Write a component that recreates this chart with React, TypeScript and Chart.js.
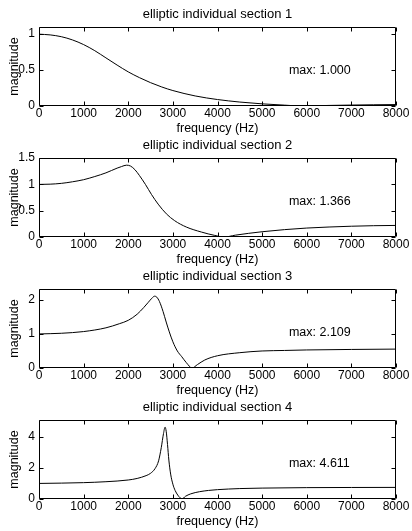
import React, { useEffect, useRef } from "react";
import { Chart, registerables } from "chart.js";

Chart.register(...registerables);

// ---------- data ----------
const xTickValues = [0, 1000, 2000, 3000, 4000, 5000, 6000, 7000, 8000];
const xMin = 0;
const xMax = 8000;

const titles = [
  "elliptic individual section 1",
  "elliptic individual section 2",
  "elliptic individual section 3",
  "elliptic individual section 4",
];

const maxValues = [1.0, 1.366, 2.109, 4.611];
const maxLabels = ["max: 1.000", "max: 1.366", "max: 2.109", "max: 4.611"];
const yTickSteps = [0.5, 0.5, 1, 2];

const freq1 = [0, 250, 500, 750, 1000, 1250, 1500, 1750, 2000, 2250, 2500, 2750, 3000, 3500, 4000, 4500, 5000, 5500, 5900, 6500, 7000, 7500, 8000];
const mag1 = [1.0, 0.99, 0.965, 0.92, 0.855, 0.77, 0.67, 0.57, 0.475, 0.395, 0.325, 0.265, 0.215, 0.14, 0.09, 0.055, 0.03, 0.012, 0.0, 0.008, 0.013, 0.017, 0.02];

const freq2 = [0, 250, 500, 750, 1000, 1250, 1500, 1750, 1850, 1960, 2050, 2150, 2250, 2385, 2520, 2670, 2855, 3040, 3300, 3640, 3940, 4150, 4400, 4700, 5000, 5500, 6000, 6500, 7000, 7500, 8000];
const mag2 = [1.0, 1.005, 1.02, 1.05, 1.09, 1.15, 1.22, 1.31, 1.34, 1.366, 1.35, 1.28, 1.17, 1.0, 0.81, 0.625, 0.44, 0.31, 0.19, 0.094, 0.03, 0.0, 0.035, 0.07, 0.1, 0.14, 0.17, 0.19, 0.205, 0.215, 0.22];

const freq3 = [0, 500, 1000, 1500, 1800, 2000, 2200, 2350, 2450, 2530, 2590, 2640, 2700, 2780, 2850, 2920, 3000, 3100, 3200, 3300, 3430, 3550, 3715, 4000, 4500, 5000, 5500, 6000, 7000, 8000];
const mag3 = [1.0, 1.02, 1.07, 1.18, 1.3, 1.4, 1.58, 1.78, 1.93, 2.05, 2.109, 2.08, 1.95, 1.66, 1.35, 1.06, 0.77, 0.5, 0.33, 0.16, 0.0, 0.1, 0.235, 0.36, 0.45, 0.5, 0.515, 0.53, 0.545, 0.555];

const freq4 = [0, 500, 1000, 1500, 2000, 2200, 2400, 2500, 2600, 2680, 2740, 2790, 2825, 2850, 2880, 2910, 2950, 3000, 3050, 3110, 3160, 3205, 3280, 3400, 3600, 3800, 4000, 4500, 5000, 6000, 7000, 8000];
const mag4 = [1.0, 1.02, 1.05, 1.11, 1.22, 1.32, 1.5, 1.65, 1.95, 2.45, 3.3, 4.2, 4.611, 4.35, 3.5, 2.5, 1.6, 0.95, 0.55, 0.25, 0.08, 0.0, 0.17, 0.33, 0.47, 0.55, 0.6, 0.67, 0.7, 0.73, 0.74, 0.745];

const freqs = [freq1, freq2, freq3, freq4];
const mags = [mag1, mag2, mag3, mag4];

const annotationX = 5600;

// ---------- layout ----------
const W = 412;
const CANVAS_H = 140;
const PANEL_STEP = 131;
const AREA_TOP = 27;
const AREA_H = 79;
const LEFT = 39;
const RIGHT_PAD = 16;
const FONT = "'Liberation Sans', Arial, Helvetica, sans-serif";

function Panel({ index }: { index: number }) {
  const ref = useRef<HTMLCanvasElement | null>(null);

  useEffect(() => {
    const canvas = ref.current;
    if (!canvas) return;
    const fx = freqs[index];
    const my = mags[index];
    const data = fx.map((f, i) => ({ x: f, y: my[i] }));
    const yMax = maxValues[index] * 1.1;

    const framePlugin = {
      id: "frame" + index,
      afterDatasetsDraw(chart: any) {
        const { ctx, chartArea: a, scales } = chart;
        const xs = scales.x;
        const ys = scales.y;
        const L = Math.round(a.left) + 0.5;
        const R = Math.round(a.right) - 0.5;
        const T = Math.round(a.top) + 0.5;
        const B = Math.round(a.bottom) - 0.5;
        ctx.save();
        ctx.strokeStyle = "#000";
        ctx.lineWidth = 1;
        ctx.beginPath();
        ctx.rect(L, T, R - L, B - T);
        const tl = 4;
        xs.ticks.forEach((t: any) => {
          const px = Math.round(xs.getPixelForValue(t.value)) + 0.5;
          ctx.moveTo(px, B);
          ctx.lineTo(px, B - tl);
          ctx.moveTo(px, T);
          ctx.lineTo(px, T + tl);
        });
        ys.ticks.forEach((t: any) => {
          const py = Math.round(ys.getPixelForValue(t.value)) + 0.5;
          ctx.moveTo(L, py);
          ctx.lineTo(L + tl, py);
          ctx.moveTo(R, py);
          ctx.lineTo(R - tl, py);
        });
        ctx.stroke();

        // texts
        ctx.fillStyle = "#000";
        ctx.textBaseline = "middle";
        ctx.textAlign = "center";
        ctx.font = `13px ${FONT}`;
        ctx.fillText(titles[index], (a.left + a.right) / 2, a.top - 13);
        ctx.font = `12.5px ${FONT}`;
        ctx.fillText("frequency (Hz)", (a.left + a.right) / 2, a.bottom + 23);
        ctx.save();
        ctx.translate(15, (a.top + a.bottom) / 2);
        ctx.rotate(-Math.PI / 2);
        ctx.fillText("magnitude", 0, 0);
        ctx.restore();
        ctx.textAlign = "left";
        ctx.font = `12.5px ${FONT}`;
        ctx.fillText(
          maxLabels[index],
          xs.getPixelForValue(annotationX),
          ys.getPixelForValue(maxValues[index] / 2)
        );
        ctx.restore();
      },
    };

    const chart = new Chart(canvas, {
      type: "line",
      data: {
        datasets: [
          {
            data,
            borderColor: "#000",
            borderWidth: 1,
            pointRadius: 0,
            fill: false,
            cubicInterpolationMode: "monotone",
          },
        ],
      },
      options: {
        responsive: false,
        animation: false,
        devicePixelRatio: 1,
        layout: { padding: { top: AREA_TOP, right: RIGHT_PAD, left: 0, bottom: 0 } },
        plugins: {
          legend: { display: false },
          title: { display: false },
          tooltip: { enabled: false },
        },
        scales: {
          x: {
            type: "linear",
            min: xMin,
            max: xMax,
            afterBuildTicks: (scale: any) => {
              scale.ticks = xTickValues.map((v) => ({ value: v }));
            },
            afterFit: (scale: any) => {
              scale.height = CANVAS_H - AREA_TOP - AREA_H;
            },
            grid: { display: false, drawTicks: false, tickLength: 0 },
            border: { display: false },
            ticks: {
              color: "#000",
              font: { family: FONT, size: 12 },
              padding: 0,
              maxRotation: 0,
              autoSkip: false,
              callback: (v: any) => String(v),
            },
          },
          y: {
            type: "linear",
            min: 0,
            max: yMax,
            afterFit: (scale: any) => {
              scale.width = LEFT;
            },
            grid: { display: false, drawTicks: false, tickLength: 0 },
            border: { display: false },
            ticks: {
              color: "#000",
              font: { family: FONT, size: 12 },
              padding: 4,
              stepSize: yTickSteps[index],
              includeBounds: false,
              callback: (v: any) => String(v),
            },
          },
        },
      },
      plugins: [framePlugin],
    } as any);

    return () => chart.destroy();
  }, [index]);

  return (
    <canvas
      ref={ref}
      width={W}
      height={CANVAS_H}
      style={{
        position: "absolute",
        left: 0,
        top: index * PANEL_STEP,
        width: W,
        height: CANVAS_H,
        display: "block",
      }}
    />
  );
}

export default function App() {
  return (
    <div
      style={{
        position: "absolute",
        left: 0,
        top: 0,
        width: 412,
        height: 531,
        background: "#fff",
        overflow: "hidden",
      }}
    >
      {[0, 1, 2, 3].map((i) => (
        <Panel key={i} index={i} />
      ))}
    </div>
  );
}
